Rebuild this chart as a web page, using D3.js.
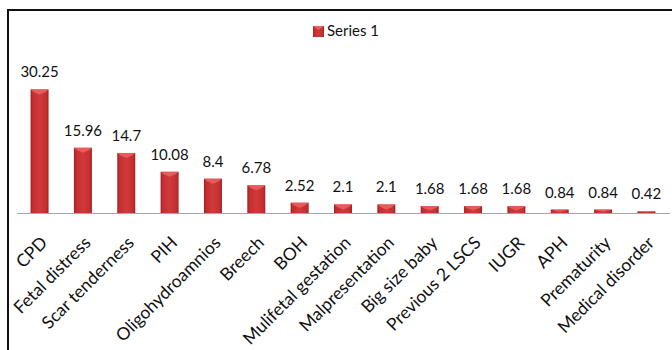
<!DOCTYPE html>
<html>
<head>
<meta charset="utf-8">
<script src="https://cdn.jsdelivr.net/npm/d3@7/dist/d3.min.js"></script>
<style>
  html, body { margin: 0; padding: 0; background: #fff; }
  svg { display: block; }
  text { font-family: Lato, "Open Sans", sans-serif; fill: #111; }
</style>
</head>
<body>
<svg id="chart" width="672" height="350"></svg>
<script>
const categories = ["CPD", "Fetal distress", "Scar tenderness", "PIH", "Oligohydroamnios", "Breech", "BOH",
  "Mulifetal gestation", "Malpresentation", "Big size baby", "Previous 2 LSCS", "IUGR", "APH", "Prematurity", "Medical disorder"];
const values = [30.25, 15.96, 14.7, 10.08, 8.4, 6.78, 2.52, 2.1, 2.1, 1.68, 1.68, 1.68, 0.84, 0.84, 0.42];
const valueLabels = ["30.25", "15.96", "14.7", "10.08", "8.4", "6.78", "2.52", "2.1", "2.1", "1.68", "1.68", "1.68", "0.84", "0.84", "0.42"];
const seriesName = "Series 1";

const svg = d3.select("#chart");
const baseY = 213;

// frame (cropped on right and bottom)
svg.append("rect").attr("x", 8).attr("y", 10).attr("width", 700).attr("height", 400)
  .attr("fill", "none").attr("stroke", "#111").attr("stroke-width", 2);

const defs = svg.append("defs");
const grad = defs.append("linearGradient").attr("id", "barGrad").attr("x1", 0).attr("x2", 1).attr("y1", 0).attr("y2", 0);
grad.append("stop").attr("offset", "0%").attr("stop-color", "#a01f21");
grad.append("stop").attr("offset", "12%").attr("stop-color", "#c42e30");
grad.append("stop").attr("offset", "50%").attr("stop-color", "#cf3a3b");
grad.append("stop").attr("offset", "88%").attr("stop-color", "#c42e30");
grad.append("stop").attr("offset", "100%").attr("stop-color", "#a01f21");

const x = d3.scaleBand().domain(categories).range([18, 668]).paddingInner(0.585).paddingOuter(0.29);
const y = d3.scaleLinear().domain([0, 35]).range([baseY, 70]);

const data = categories.map((c, i) => ({ c, v: values[i], l: valueLabels[i] }));

// baseline axis
const xAxis = d3.axisBottom(x).tickSize(0).tickFormat("");
const axg = svg.append("g").attr("transform", `translate(0,${baseY})`).call(xAxis);
axg.select(".domain").attr("stroke", "#a6a6a6").attr("stroke-width", 1.2).attr("d", `M17,0.5H670`);

const bars = svg.append("g").selectAll("g").data(data).join("g");
bars.append("rect")
  .attr("x", d => x(d.c))
  .attr("y", d => y(d.v))
  .attr("width", x.bandwidth())
  .attr("height", d => baseY - y(d.v))
  .attr("fill", "url(#barGrad)");
// top bevel highlight
bars.append("path")
  .attr("d", d => {
    const x0 = x(d.c), w = x.bandwidth(), t = y(d.v);
    const h = Math.min(5, (baseY - t) * 0.6);
    return `M${x0},${t}H${x0 + w}L${x0 + w - 3},${t + h * 0.5}L${x0 + w / 2},${t + h}L${x0 + 3},${t + h * 0.5}Z`;
  })
  .attr("fill", "#e8605e").attr("opacity", 0.9);

// value labels
bars.append("text")
  .attr("x", d => x(d.c) + x.bandwidth() / 2)
  .attr("y", d => y(d.v) - 12)
  .attr("text-anchor", "middle")
  .attr("font-size", 15)
  .text(d => d.l);

// category labels
svg.append("g").selectAll("text").data(categories).join("text")
  .attr("transform", d => `translate(${x(d) + x.bandwidth() / 2 - 1},${baseY + 21}) rotate(-45)`)
  .attr("dy", "0.8em")
  .attr("text-anchor", "end")
  .attr("font-size", 17.5)
  .text(d => d);

// legend
const lg = svg.append("g").attr("transform", "translate(313,26)");
lg.append("rect").attr("width", 11).attr("height", 11).attr("fill", "url(#barGrad)");
lg.append("path").attr("d", "M0,0H11L5.5,4Z").attr("fill", "#e8605e");
lg.append("text").attr("x", 14).attr("y", 10).attr("font-size", 15).text(seriesName);
</script>
</body>
</html>
